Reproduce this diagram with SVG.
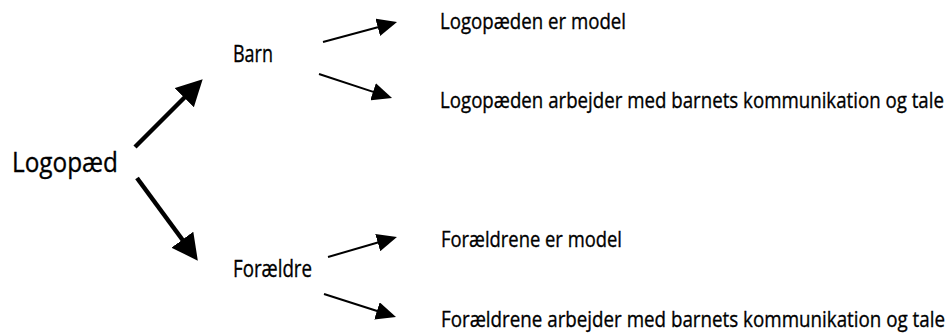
<svg xmlns="http://www.w3.org/2000/svg" width="952" height="333" viewBox="0 0 952 333">
<defs>
<style>
text { font-family: "Open Sans", "Noto Sans", "DejaVu Sans", sans-serif; fill: #000; stroke: #000; stroke-width: 0.35; }
.big { font-size: 28px; }
.mid { font-size: 23px; }
.sm { font-size: 22px; }
.thick { stroke: #000; stroke-width: 4.5; fill: none; marker-end: url(#headL); }
.thin { stroke: #000; stroke-width: 2; fill: none; marker-end: url(#headS); }
</style>
<marker id="headL" markerUnits="userSpaceOnUse" markerWidth="26" markerHeight="27" refX="1" refY="13.5" orient="auto">
<path d="M0,0 L26,13.5 L0,27 Z" fill="#000" stroke="none"/>
</marker>
<marker id="headS" markerUnits="userSpaceOnUse" markerWidth="20" markerHeight="18" refX="1" refY="9" orient="auto">
<path d="M0,0 L20,9 L0,18 Z" fill="#000" stroke="none"/>
</marker>
</defs>
<rect width="952" height="333" fill="#fff"/>
<g id="connectors">
<line class="thick" x1="135" y1="147" x2="185" y2="97"/>
<line class="thick" x1="137" y1="178" x2="183" y2="240.5"/>
<line class="thin" x1="323" y1="42" x2="378.7" y2="27"/>
<line class="thin" x1="319" y1="74" x2="374" y2="92.1"/>
<line class="thin" x1="328" y1="257" x2="378.7" y2="242.3"/>
<line class="thin" x1="324" y1="294" x2="377.9" y2="311.2"/>
</g>
<g id="logopaed"><text class="big" transform="translate(12,172) scale(0.85,1)" textLength="124.7" lengthAdjust="spacingAndGlyphs">Logopæd</text></g>
<g id="barn"><text class="mid" transform="translate(233,62) scale(0.85,1)" textLength="47" lengthAdjust="spacingAndGlyphs">Barn</text></g>
<g id="foraeldre"><text class="mid" transform="translate(233,277) scale(0.85,1)" textLength="92.9" lengthAdjust="spacingAndGlyphs">Forældre</text></g>
<g id="logo-model"><text class="sm" transform="translate(440,29) scale(0.85,1)" textLength="218.8" lengthAdjust="spacingAndGlyphs">Logopæden er model</text></g>
<g id="logo-arbejder"><text class="sm" transform="translate(440,108) scale(0.85,1)" textLength="592.9" lengthAdjust="spacingAndGlyphs">Logopæden arbejder med barnets kommunikation og tale</text></g>
<g id="foraeldre-model"><text class="sm" transform="translate(441,247) scale(0.85,1)" textLength="212.9" lengthAdjust="spacingAndGlyphs">Forældrene er model</text></g>
<g id="foraeldre-arbejder"><text class="sm" transform="translate(441,327) scale(0.85,1)" textLength="592.9" lengthAdjust="spacingAndGlyphs">Forældrene arbejder med barnets kommunikation og tale</text></g>
</svg>
